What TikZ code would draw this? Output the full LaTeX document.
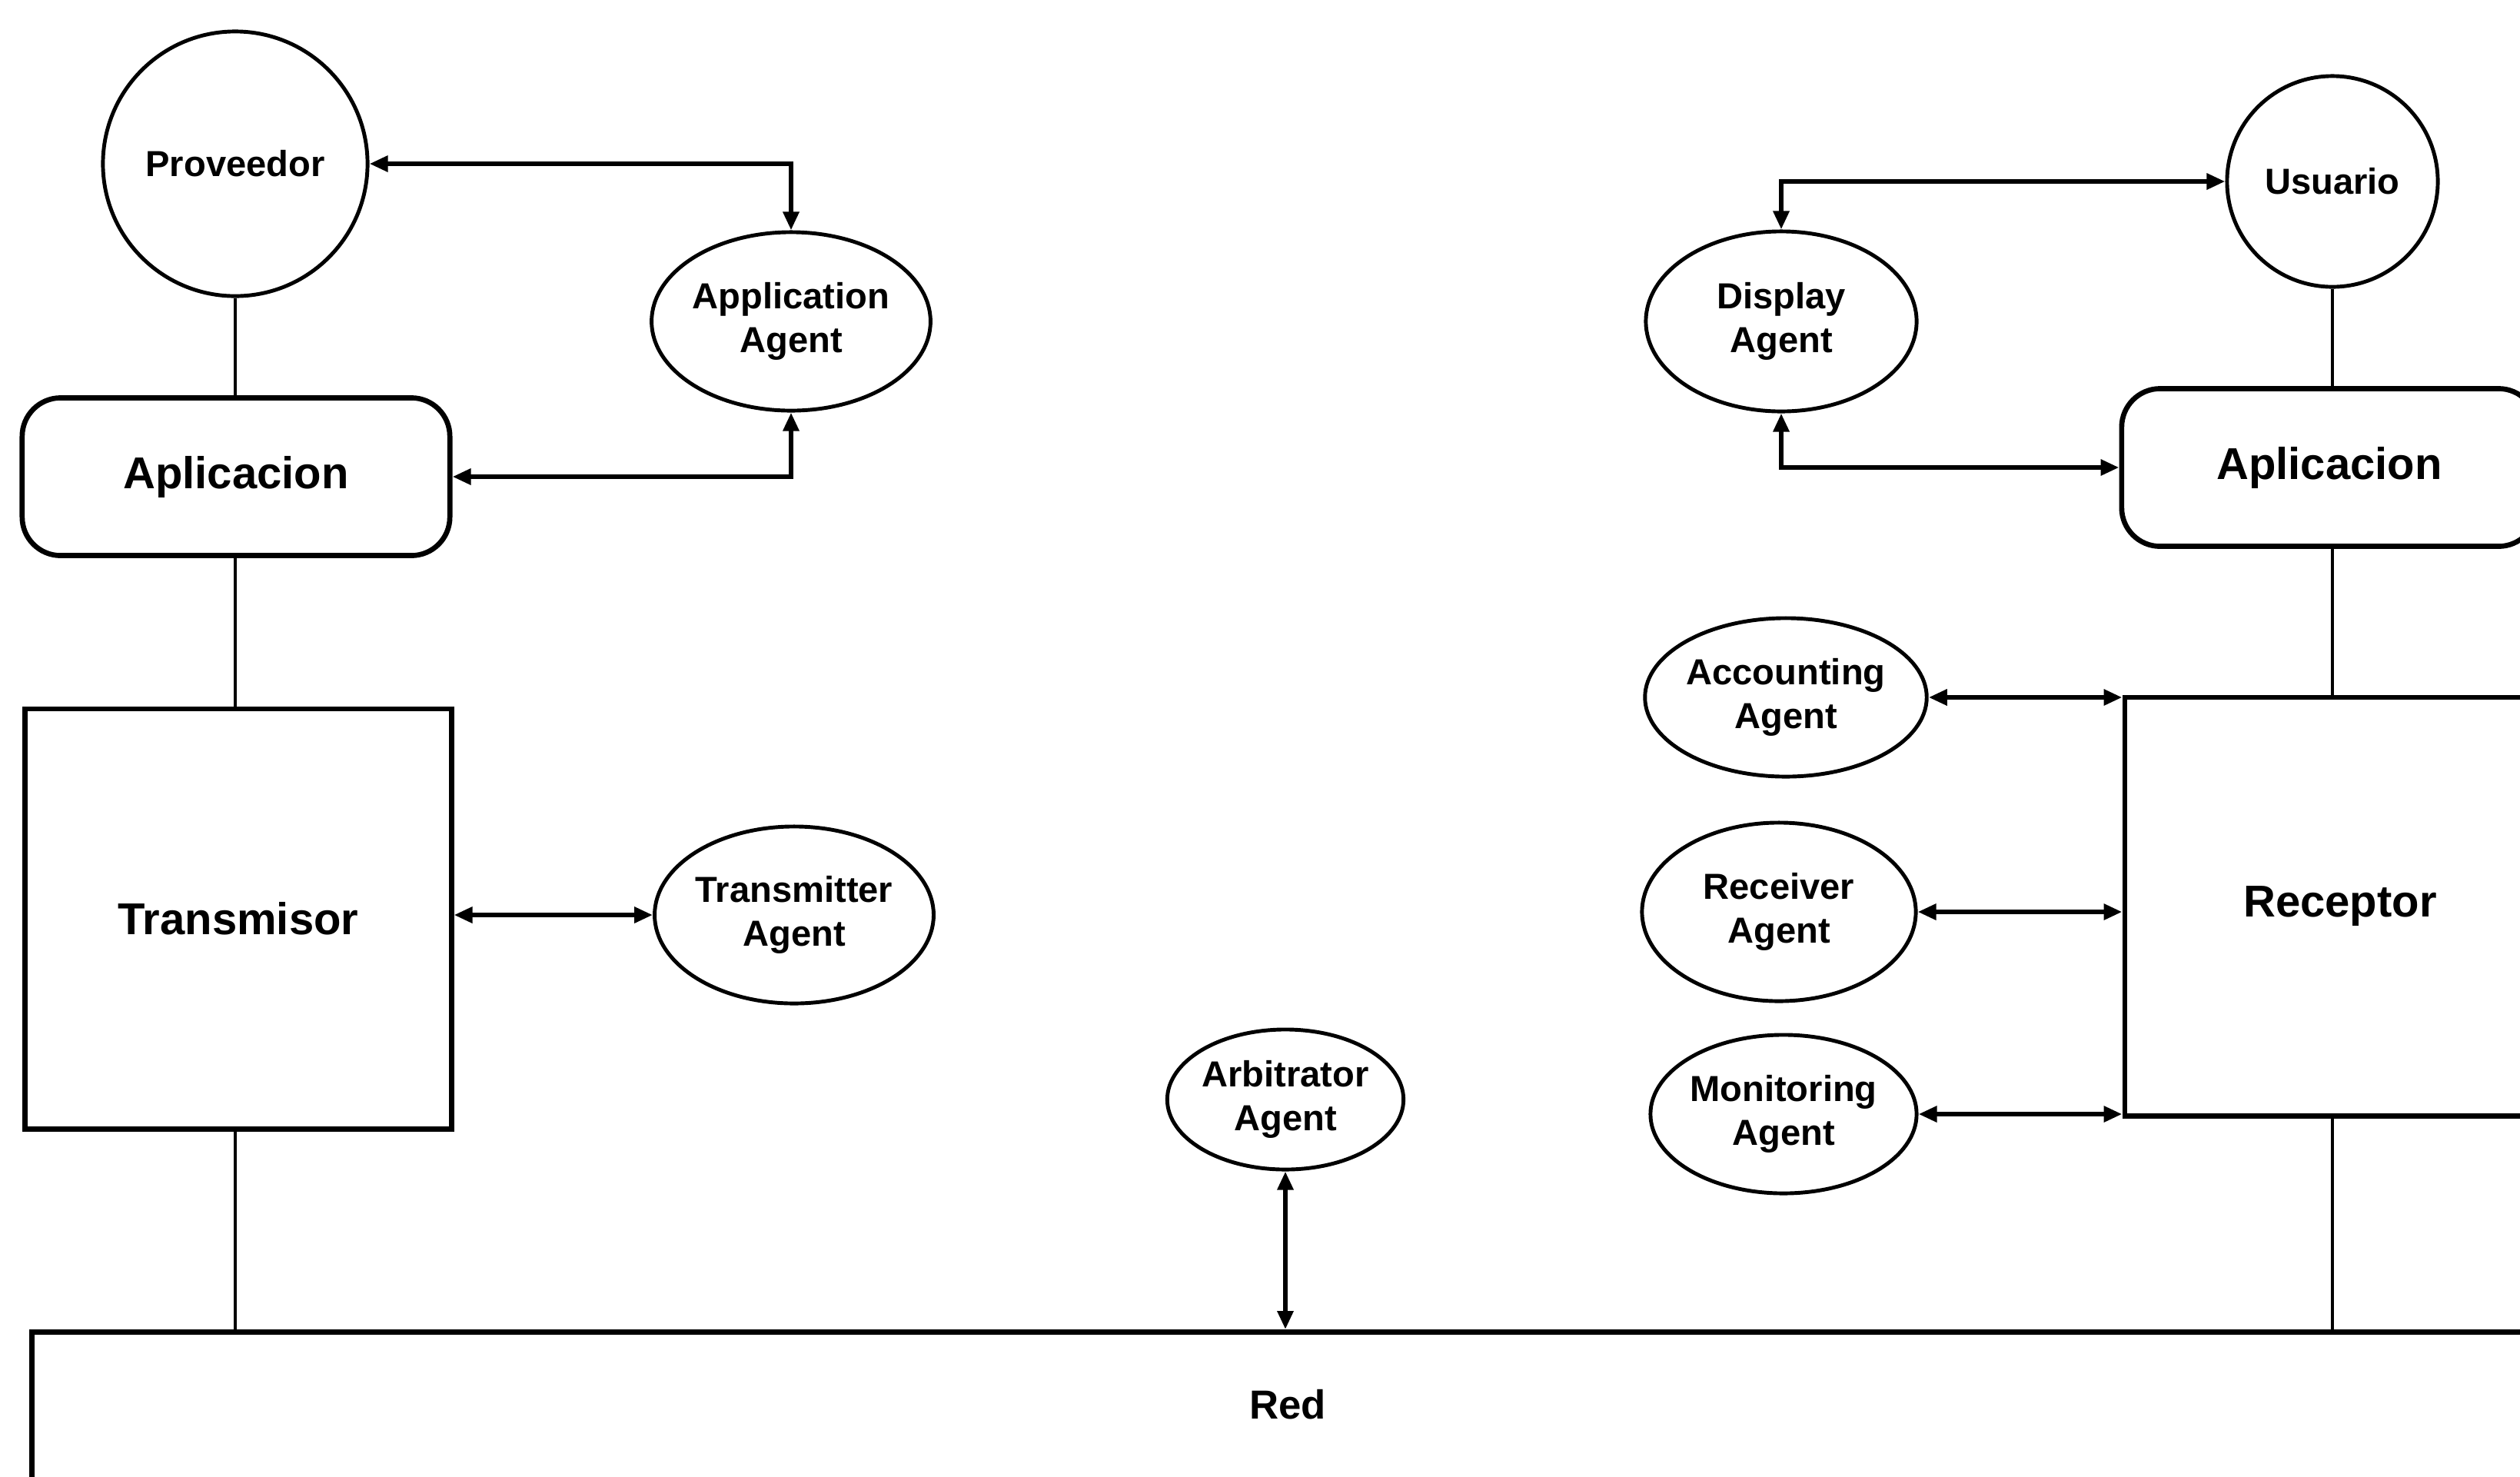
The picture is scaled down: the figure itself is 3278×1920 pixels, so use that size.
\documentclass[tikz,border=0pt]{standalone}
\usepackage{fontspec}
\setmainfont{Liberation Sans}
\usetikzlibrary{arrows.meta,shapes.geometric}

\tikzset{
  agent/.style={ellipse, draw, line width=1.4pt, inner sep=0pt, align=center,
    font=\fontsize{13.4}{16}\selectfont\bfseries},
  actor/.style={circle, draw, line width=1.4pt, inner sep=0pt,
    font=\fontsize{13.4}{16}\selectfont\bfseries},
  layer/.style={rectangle, draw, line width=1.9pt, inner sep=0pt,
    font=\fontsize{16.5}{20}\selectfont\bfseries},
  roundlayer/.style={layer, rounded corners=0.5cm},
  caption/.style={font=\fontsize{15}{18}\selectfont\bfseries},
  link/.style={line width=1.8pt,
    {Triangle[length=0.24cm,width=0.2cm]}-{Triangle[length=0.24cm,width=0.2cm]}},
  wire/.style={line width=1.2pt},
}

\begin{document}
\begin{tikzpicture}[x=0.01cm, y=-0.01cm]
  \useasboundingbox (0,0) rectangle (3278,1920);
  \clip (0,0) rectangle (3278,1920);

  % sender side
  \node[actor, minimum size=3.44cm] (prov) at (306,213) {Proveedor};
  \node[agent, minimum width=3.52cm, minimum height=2.32cm] (appag) at (1029,418) {Application\\Agent};
  \node[roundlayer, minimum width=5.56cm, minimum height=2.05cm] (aplL) at (307,620) {Aplicacion};
  \node[layer, minimum width=5.54cm, minimum height=5.46cm] (trans) at (310,1195) {Transmisor};
  \node[agent, minimum width=3.48cm, minimum height=2.30cm] (transag) at (1033,1190) {Transmitter\\Agent};

  % network
  \node[agent, minimum width=3.06cm, minimum height=1.82cm] (arbag) at (1672,1430) {Arbitrator\\Agent};
  \node[layer, anchor=north west, minimum width=32.92cm, minimum height=3cm] (red) at (38,1729) {};
  \node[caption] (redlbl) at (1675,1827) {Red};

  % receiver side
  \node[actor, minimum size=2.74cm] (usu) at (3034,236) {Usuario};
  \node[agent, minimum width=3.52cm, minimum height=2.34cm] (dispag) at (2317,418) {Display\\Agent};
  \node[roundlayer, minimum width=5.4cm, minimum height=2.05cm] (aplR) at (3030,608) {Aplicacion};
  \node[layer, minimum width=5.6cm, minimum height=5.44cm] (rec) at (3044,1179) {Receptor};
  \node[agent, minimum width=3.52cm, minimum height=2.06cm] (accag) at (2323,907) {Accounting\\Agent};
  \node[agent, minimum width=3.56cm, minimum height=2.32cm] (recvag) at (2314,1186) {Receiver\\Agent};
  \node[agent, minimum width=3.46cm, minimum height=2.06cm] (monag) at (2320,1449) {Monitoring\\Agent};

  % vertical stack lines
  \draw[wire] (prov.south) -- (prov.south |- aplL.north);
  \draw[wire] (prov.south |- aplL.south) -- (prov.south |- trans.north);
  \draw[wire] (prov.south |- trans.south) -- (prov.south |- red.north);
  \draw[wire] (usu.south) -- (usu.south |- aplR.north);
  \draw[wire] (usu.south |- aplR.south) -- (usu.south |- rec.north);
  \draw[wire] (usu.south |- rec.south) -- (usu.south |- red.north);

  % agent links
  \draw[link] (prov.east) -| (appag.north);
  \draw[link] (aplL.east) -| (appag.south);
  \draw[link] (transag.west -| trans.east) -- (transag.west);
  \draw[link] (arbag.south) -- (arbag.south |- red.north);
  \draw[link] (dispag.north) |- (usu.west);
  \draw[link] (dispag.south) |- (aplR.west);
  \draw[link] (accag.east) -- (accag.east -| rec.west);
  \draw[link] (recvag.east) -- (recvag.east -| rec.west);
  \draw[link] (monag.east) -- (monag.east -| rec.west);
\end{tikzpicture}
\end{document}
